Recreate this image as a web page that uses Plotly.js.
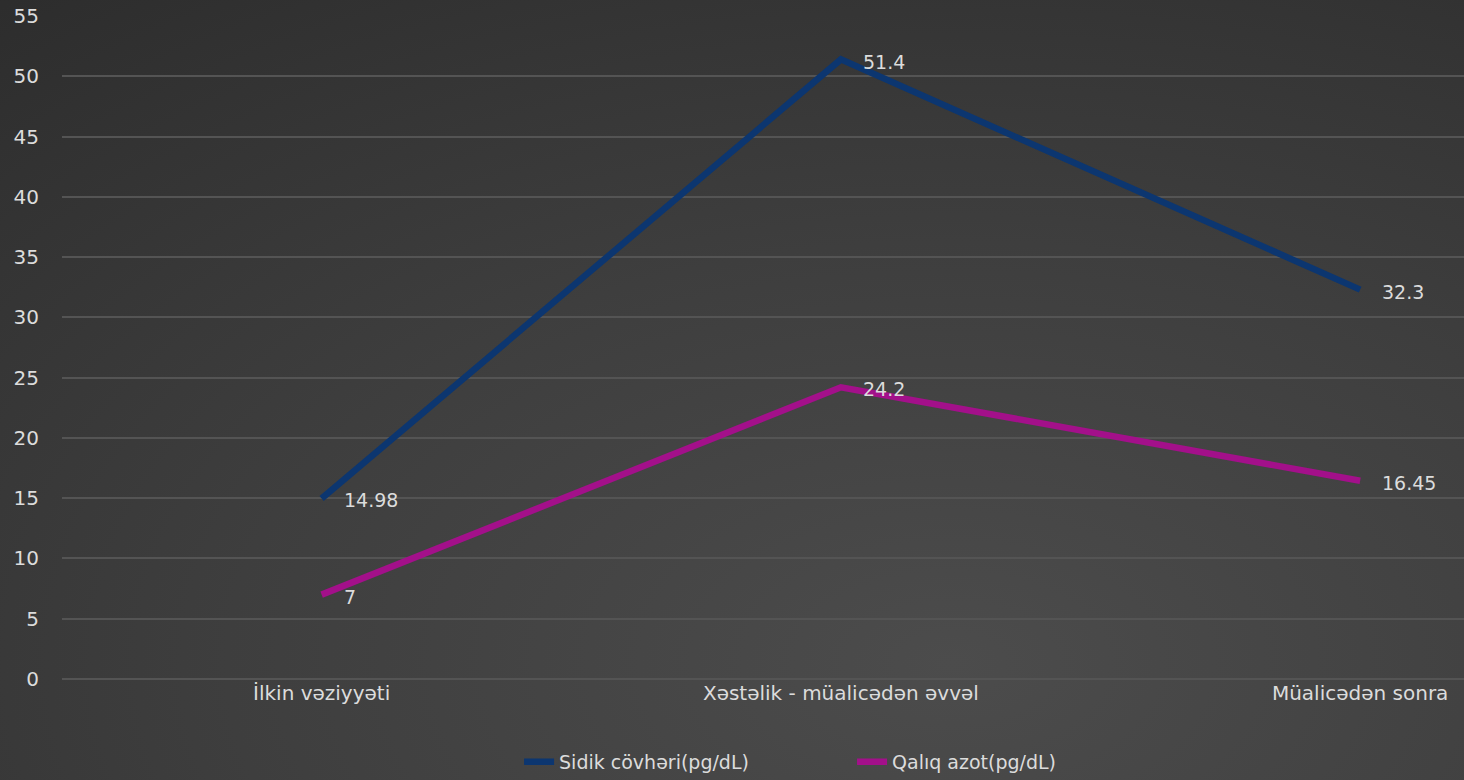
<!DOCTYPE html>
<html>
<head>
<meta charset="utf-8">
<script src="https://cdn.plot.ly/plotly-3.0.1.min.js"></script>
<style>
html,body{margin:0;padding:0;width:1464px;height:780px;overflow:hidden;}
body{background:radial-gradient(ellipse 110% 120% at 65% 85%, #4c4c4c 0%, #3e3e3e 45%, #2a2a2a 100%);}
#chart{width:1464px;height:780px;}
</style>
</head>
<body>
<div id="chart"></div>
<script>
const categories = ["İlkin vəziyyəti", "Xəstəlik - müalicədən əvvəl", "Müalicədən sonra"];
const seriesNames = ["Sidik cövhəri(pg/dL)", "Qalıq azot(pg/dL)"];
const sidik = [14.98, 51.4, 32.3];
const qaliq = [7, 24.2, 16.45];
const yTicks = [0, 5, 10, 15, 20, 25, 30, 35, 40, 45, 50, 55];

const FONT = "'DejaVu Sans', sans-serif";
const TXT = "#dcdcdc";
const colors = ["#0c3670", "#a3108a"];
const seriesVals = [sidik, qaliq];

const traces = seriesVals.map((vals, i) => ({
  type: "scatter",
  mode: "lines",
  x: categories,
  y: vals,
  name: seriesNames[i],
  line: {color: colors[i], width: 6.5},
  hoverinfo: "x+y"
}));

const annotations = [];
seriesVals.forEach(vals => {
  vals.forEach((v, j) => {
    annotations.push({
      x: categories[j], y: v, xref: "x", yref: "y",
      text: String(v), showarrow: false,
      xanchor: "left", yanchor: "middle", xshift: 20, yshift: (v === 51.4) ? -3 : -2,
      font: {family: FONT, size: 19, color: TXT}
    });
  });
});

const layout = {
  width: 1464, height: 780,
  paper_bgcolor: "rgba(0,0,0,0)",
  plot_bgcolor: "rgba(0,0,0,0)",
  margin: {l: 62, r: 0, t: 16, b: 101, autoexpand: false},
  font: {family: FONT, size: 19, color: TXT},
  showlegend: true,
  legend: {
    orientation: "h", x: 0.326, xanchor: "left", y: -0.125, yanchor: "middle",
    font: {family: FONT, size: 19, color: TXT},
    entrywidth: 288, entrywidthmode: "pixels",
    bgcolor: "rgba(0,0,0,0)"
  },
  xaxis: {
    type: "category",
    range: [-0.5, 2.2],
    showgrid: false, zeroline: false, showline: false,
    ticks: "", ticklen: 0,
    tickfont: {family: FONT, size: 20, color: TXT}
  },
  yaxis: {
    range: [0, 55],
    tickvals: yTicks,
    ticktext: yTicks.map(String),
    showgrid: true, gridcolor: "#545454", gridwidth: 1.5,
    zeroline: true, zerolinecolor: "#545454", zerolinewidth: 1.5,
    showline: false, ticks: "",
    ticklabelstandoff: 22,
    tickfont: {family: FONT, size: 20, color: TXT}
  },
  annotations: annotations
};

Plotly.newPlot("chart", traces, layout, {displayModeBar: false});
</script>
</body>
</html>
